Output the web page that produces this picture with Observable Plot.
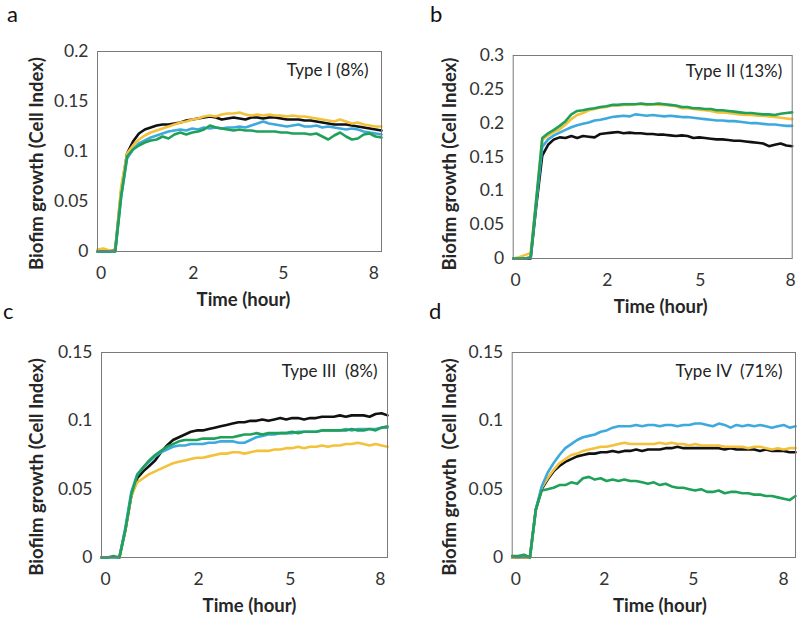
<!DOCTYPE html>
<html><head><meta charset="utf-8">
<script src="https://cdn.jsdelivr.net/npm/d3@7"></script>
<script src="https://cdn.jsdelivr.net/npm/@observablehq/plot@0.6"></script>
<style>
body{margin:0;background:#fff;}
#root{position:relative;width:800px;height:619px;font-family:Lato,sans-serif;overflow:hidden;background:#fff}
.panel{position:absolute}
.letter{position:absolute;font-size:22px;line-height:22px;color:#111;font-family:Lato,sans-serif}
</style></head><body><div id="root"></div>
<script>
// sample index along the time axis (49 readings per curve)
const sampleIndex = d3.range(49);
const seriesNames = ["Series 1", "Series 2", "Series 3", "Series 4"];
const seriesColors = ["#111111", "#f3c13a", "#3ea9dd", "#1fa15a"];
const xTickLabels = ["0", "2", "5", "8"];
const panelLetters = ["a", "b", "c", "d"];
const typeLabels = ["Type I (8%)", "Type II (13%)", "Type III\u00a0 (8%)", "Type IV\u00a0 (71%)"];
const yTitles = ["Biofim growth (Cell Index)", "Biofim growth (Cell Index)", "Biofilm growth (Cell Index)", "Biofim growth\u00a0 (Cell Index)"];
const xTitle = "Time (hour)";
const yTicksA = [0, 0.05, 0.1, 0.15, 0.2];
const yTicksB = [0, 0.05, 0.1, 0.15, 0.2, 0.25, 0.3];
const yTicksC = [0, 0.05, 0.1, 0.15];
const yTicksD = [0, 0.05, 0.1, 0.15];

// Panel a
const aBlack = [0,0,0,0.002,0.06,0.098,0.11,0.118,0.122,0.124,0.126,0.127,0.127,0.128,0.129,0.131,0.132,0.133,0.134,0.135,0.134,0.132,0.133,0.134,0.133,0.132,0.134,0.134,0.133,0.134,0.134,0.133,0.132,0.132,0.132,0.131,0.131,0.13,0.129,0.128,0.127,0.127,0.127,0.126,0.125,0.124,0.123,0.122,0.121];
const aYellow = [0.002,0.003,0.001,0.001,0.065,0.098,0.106,0.112,0.116,0.119,0.121,0.123,0.125,0.127,0.129,0.13,0.132,0.133,0.135,0.136,0.135,0.137,0.138,0.138,0.139,0.137,0.136,0.137,0.136,0.137,0.136,0.136,0.135,0.136,0.135,0.135,0.134,0.133,0.132,0.131,0.13,0.132,0.13,0.128,0.129,0.127,0.126,0.125,0.125];
const aBlue = [0,0,0,0,0.055,0.093,0.102,0.108,0.111,0.114,0.116,0.118,0.12,0.121,0.122,0.121,0.123,0.122,0.124,0.123,0.124,0.123,0.124,0.124,0.125,0.124,0.126,0.128,0.13,0.128,0.127,0.126,0.125,0.126,0.127,0.125,0.125,0.126,0.124,0.125,0.124,0.123,0.122,0.123,0.122,0.12,0.119,0.118,0.117];
const aGreen = [0,0,0,0,0.055,0.095,0.102,0.106,0.109,0.111,0.112,0.115,0.113,0.117,0.119,0.117,0.119,0.12,0.122,0.126,0.124,0.123,0.122,0.121,0.122,0.121,0.121,0.12,0.12,0.12,0.12,0.119,0.119,0.118,0.118,0.118,0.117,0.118,0.115,0.112,0.116,0.119,0.115,0.112,0.113,0.117,0.118,0.115,0.114];
// Panel b
const bBlack = [0,0,0,0,0.08,0.152,0.168,0.176,0.179,0.178,0.181,0.178,0.181,0.18,0.179,0.184,0.185,0.186,0.187,0.185,0.186,0.185,0.185,0.184,0.184,0.183,0.183,0.182,0.181,0.182,0.181,0.178,0.179,0.178,0.177,0.176,0.176,0.175,0.174,0.174,0.173,0.172,0.171,0.17,0.166,0.168,0.17,0.167,0.166];
const bYellow = [0,0.002,0.005,0.008,0.09,0.175,0.182,0.187,0.191,0.198,0.206,0.212,0.215,0.219,0.221,0.223,0.224,0.226,0.226,0.227,0.227,0.228,0.228,0.227,0.228,0.227,0.227,0.226,0.225,0.222,0.222,0.221,0.22,0.219,0.218,0.216,0.216,0.215,0.214,0.213,0.212,0.212,0.211,0.211,0.21,0.209,0.208,0.207,0.206];
const bBlue = [0,0,0,0.001,0.085,0.165,0.176,0.182,0.186,0.19,0.194,0.197,0.199,0.201,0.204,0.205,0.207,0.209,0.21,0.211,0.21,0.213,0.212,0.211,0.212,0.211,0.21,0.211,0.21,0.209,0.209,0.208,0.207,0.206,0.205,0.204,0.204,0.203,0.203,0.202,0.201,0.2,0.2,0.199,0.198,0.198,0.197,0.196,0.196];
const bGreen = [0,0,0,0.002,0.09,0.178,0.185,0.19,0.196,0.203,0.213,0.218,0.219,0.221,0.222,0.224,0.225,0.227,0.227,0.228,0.228,0.228,0.229,0.228,0.228,0.229,0.228,0.227,0.226,0.224,0.224,0.222,0.222,0.221,0.221,0.219,0.219,0.218,0.217,0.216,0.215,0.215,0.214,0.213,0.213,0.212,0.214,0.215,0.216];
// Panel c
const cBlack = [0,0,0,0,0.02,0.045,0.058,0.063,0.067,0.071,0.077,0.082,0.086,0.088,0.09,0.092,0.093,0.093,0.094,0.095,0.096,0.097,0.098,0.099,0.099,0.1,0.1,0.101,0.1,0.101,0.102,0.101,0.102,0.102,0.101,0.102,0.102,0.103,0.103,0.103,0.104,0.103,0.104,0.104,0.104,0.103,0.105,0.1055,0.104];
const cYellow = [0,0,0,0,0.02,0.045,0.055,0.058,0.061,0.063,0.065,0.067,0.069,0.07,0.071,0.072,0.073,0.073,0.074,0.075,0.076,0.076,0.077,0.077,0.076,0.077,0.078,0.078,0.078,0.079,0.079,0.08,0.08,0.081,0.08,0.081,0.081,0.082,0.081,0.082,0.082,0.083,0.083,0.084,0.083,0.082,0.083,0.082,0.081];
const cBlue = [0,0,0,0,0.022,0.048,0.061,0.066,0.07,0.074,0.077,0.079,0.081,0.082,0.082,0.083,0.083,0.083,0.084,0.084,0.085,0.085,0.085,0.084,0.084,0.086,0.088,0.089,0.09,0.09,0.091,0.091,0.091,0.092,0.092,0.092,0.092,0.093,0.093,0.093,0.093,0.094,0.093,0.094,0.094,0.094,0.094,0.095,0.095];
const cGreen = [0,0,0.001,0,0.02,0.046,0.06,0.066,0.071,0.075,0.078,0.081,0.083,0.085,0.086,0.086,0.086,0.087,0.087,0.087,0.088,0.088,0.088,0.089,0.09,0.09,0.091,0.09,0.091,0.091,0.091,0.091,0.092,0.091,0.092,0.092,0.092,0.093,0.093,0.093,0.093,0.093,0.094,0.093,0.093,0.094,0.093,0.095,0.096];
// Panel d
const dBlack = [0,0,0,0,0.035,0.05,0.057,0.063,0.067,0.07,0.072,0.074,0.075,0.076,0.076,0.077,0.077,0.078,0.077,0.078,0.078,0.079,0.078,0.079,0.079,0.079,0.08,0.08,0.081,0.08,0.08,0.08,0.08,0.08,0.08,0.08,0.079,0.08,0.079,0.079,0.079,0.079,0.078,0.079,0.078,0.078,0.078,0.077,0.077];
const dYellow = [0,0,0,0,0.035,0.051,0.058,0.064,0.069,0.072,0.075,0.076,0.078,0.079,0.08,0.081,0.081,0.082,0.083,0.084,0.083,0.083,0.083,0.083,0.083,0.084,0.083,0.084,0.083,0.083,0.082,0.083,0.082,0.082,0.082,0.082,0.081,0.081,0.081,0.081,0.08,0.081,0.081,0.08,0.079,0.08,0.079,0.08,0.08];
const dBlue = [0.001,0,0.001,0,0.035,0.052,0.062,0.069,0.075,0.08,0.083,0.086,0.088,0.089,0.09,0.092,0.093,0.095,0.096,0.096,0.096,0.097,0.096,0.097,0.097,0.096,0.097,0.097,0.096,0.097,0.097,0.098,0.098,0.097,0.096,0.098,0.097,0.095,0.097,0.096,0.097,0.096,0.097,0.096,0.095,0.096,0.097,0.095,0.096];
const dGreen = [0.001,0.001,0.002,0,0.035,0.049,0.05,0.051,0.053,0.053,0.055,0.054,0.058,0.059,0.057,0.058,0.056,0.057,0.056,0.057,0.056,0.056,0.055,0.054,0.055,0.053,0.054,0.052,0.051,0.051,0.05,0.049,0.05,0.048,0.048,0.049,0.047,0.048,0.048,0.047,0.047,0.046,0.046,0.045,0.045,0.044,0.043,0.042,0.045];

const panels = [
  {series:[aBlack,aYellow,aBlue,aGreen], yMax:0.2, yTicks:yTicksA, left:0, top:0, width:400, height:310,
   m:[51,19,59,97], xTickPos:[0.6,16.2,31.4,46.7], typeD:[-13,12], yTitleD:[-60,12], xTitleDx:4},
  {series:[bBlack,bYellow,bBlue,bGreen], yMax:0.3, yTicks:yTicksB, left:400, top:0, width:400, height:310,
   m:[55,8.3,52,112.7], xTickPos:[0.4,16.2,32.2,47.7], typeD:[-10,9], yTitleD:[-63,7], xTitleDx:8},
  {series:[cBlack,cYellow,cBlue,cGreen], yMax:0.15, yTicks:yTicksC, left:0, top:310, width:400, height:309,
   m:[42,13,62,101], xTickPos:[0.7,16.3,31.7,46.8], typeD:[-10,12], yTitleD:[-64,12], xTitleDx:5},
  {series:[dBlack,dYellow,dBlue,dGreen], yMax:0.15, yTicks:yTicksD, left:400, top:310, width:400, height:309,
   m:[42,5,62,111.7], xTickPos:[0.6,15.6,30.7,46.0], typeD:[-13,12], yTitleD:[-62,12], xTitleDx:6}
];
const letterPos = [[7,3],[430,3],[3,300],[429,300]];

const root = document.getElementById("root");
panels.forEach((p, k) => {
  const rows = [];
  p.series.forEach((vals, s) => vals.forEach((v, j) => rows.push({i: sampleIndex[j], v, s: seriesNames[s]})));
  const chart = Plot.plot({
    width: p.width, height: p.height,
    marginTop: p.m[0], marginRight: p.m[1], marginBottom: p.m[2], marginLeft: p.m[3],
    x: {domain: [0, 48]},
    y: {domain: [0, p.yMax]},
    color: {type: "ordinal", domain: seriesNames, range: seriesColors},
    style: {fontFamily: "Lato, sans-serif", fontSize: "17.5px", color: "#333", background: "transparent", overflow: "visible"},
    marks: [
      Plot.axisX({ticks: p.xTickPos, tickFormat: d => xTickLabels[p.xTickPos.indexOf(d)], tickSize: 0, tickPadding: 15, fontSize: 17.5, label: null, fill: "#333"}),
      Plot.axisY({ticks: p.yTicks, tickFormat: d => String(d), tickSize: 0, tickPadding: 9, fontSize: 17.5, label: null, fill: "#333"}),
      Plot.line(rows, {x: "i", y: "v", z: "s", stroke: "s", strokeWidth: 2.6, strokeLinejoin: "round"}),
      Plot.frame({stroke: "#7a7a7a", strokeWidth: 1}),
      Plot.text([typeLabels[k]], {text: d => d, frameAnchor: "top-right", textAnchor: "end", lineAnchor: "top", dx: p.typeD[0], dy: p.typeD[1], fontSize: 17, fill: "#222"}),
      Plot.text([xTitle], {text: d => d, frameAnchor: "bottom", lineAnchor: "bottom", dx: p.xTitleDx, dy: 54, fontSize: 18.5, fontWeight: "bold", fill: "#262626"}),
      Plot.text([yTitles[k]], {text: d => d, frameAnchor: "left", rotate: -90, textAnchor: "middle", lineAnchor: "middle", dx: p.yTitleD[0], dy: p.yTitleD[1], fontSize: 18.5, fontWeight: "bold", fill: "#262626"})
    ]
  });
  chart.classList.add("panel");
  chart.style.left = p.left + "px";
  chart.style.top = p.top + "px";
  root.appendChild(chart);
  const L = document.createElement("div");
  L.className = "letter";
  L.textContent = panelLetters[k];
  L.style.left = letterPos[k][0] + "px";
  L.style.top = letterPos[k][1] + "px";
  root.appendChild(L);
});
</script></body></html>
